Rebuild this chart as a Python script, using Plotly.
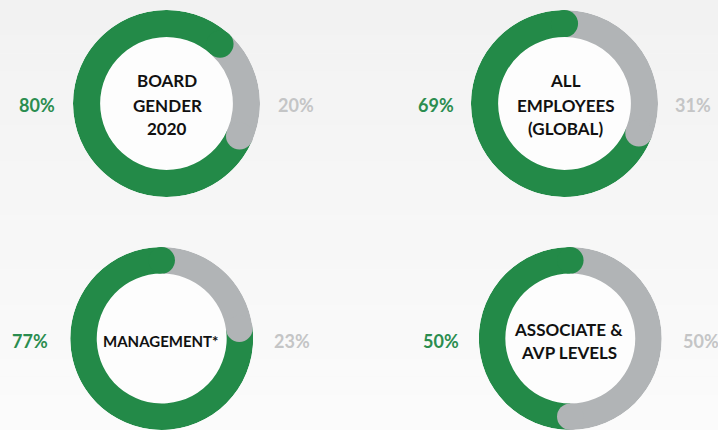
import plotly.graph_objects as go

# ---------------- data ----------------
chart_labels = [
    ["BOARD", "GENDER", "2020"],
    ["ALL", "EMPLOYEES", "(GLOBAL)"],
    ["MANAGEMENT*"],
    ["ASSOCIATE &", "AVP LEVELS"],
]
green_pct = [80, 69, 77, 50]
gray_pct = [20, 31, 23, 50]

# ---------------- style / layout ----------------
W, H = 718, 430
GREEN = "#238a48"
GRAY = "#b1b4b6"
GREEN_TXT = "#2b8d4f"
GRAY_TXT = "#c4c5c6"
INNER = 0.71  # inner radius as fraction of outer

# per chart: centre x (px), centre y (px), outer radius (px), gray start angle (deg, clockwise from 12)
geom = [
    (166.5, 103.5, 93.5, 42),
    (564.5, 103.5, 93.5, 0),
    (161.7, 338.5, 91.5, 0),
    (570.3, 338.5, 91.5, 0),
]
# text placement per chart: label centre x, label line y's, left pct x, right pct x, pct y, label font size
text_pos = [
    (167.0, [80.5, 105.0, 128.5], 36.7, 296.3, 105.0, 17),
    (565.5, [80.5, 105.0, 128.5], 435.7, 693.3, 105.0, 17),
    (160.5, [341.0], 30.0, 292.3, 341.0, 15),
    (568.8, [329.5, 352.7], 440.7, 700.5, 341.0, 17),
]

fig = go.Figure()
layout_polars = {}
annotations = []
shapes = []

# subtle vertical background gradient
n_bands = 24
for i in range(n_bands):
    t = i / (n_bands - 1)
    c = int(round(0xf2 + (0xfb - 0xf2) * t))
    shapes.append(dict(type="rect", xref="paper", yref="paper",
                       x0=0, x1=1, y0=1 - (i + 1) / n_bands, y1=1 - i / n_bands,
                       fillcolor=f"rgb({c},{c},{c})", line=dict(width=0), layer="below"))

for k in range(4):
    cx, cy, R, start = geom[k]
    pid = "polar" if k == 0 else f"polar{k+1}"
    sub = pid
    g = green_pct[k] / (green_pct[k] + gray_pct[k]) * 360
    s = gray_pct[k] / (green_pct[k] + gray_pct[k]) * 360

    # ring segments
    fig.add_trace(go.Barpolar(
        theta=[start + s / 2, start + s + g / 2], width=[s, g],
        r=[1 - INNER, 1 - INNER], base=[INNER, INNER],
        marker=dict(color=[GRAY, GREEN], line=dict(width=0)),
        subplot=sub, hoverinfo="skip", showlegend=False))
    # rounded caps
    cap = (1 - INNER) * R
    midr = (1 + INNER) / 2
    fig.add_trace(go.Scatterpolar(
        r=[midr], theta=[start + s], mode="markers",
        marker=dict(size=cap, color=GRAY, line=dict(width=0)),
        subplot=sub, hoverinfo="skip", showlegend=False))
    fig.add_trace(go.Scatterpolar(
        r=[midr], theta=[start], mode="markers",
        marker=dict(size=cap, color=GREEN, line=dict(width=0)),
        subplot=sub, hoverinfo="skip", showlegend=False))

    y0 = max(0.0, 1 - (cy + R) / H)
    y1 = min(1.0, 1 - (cy - R) / H)
    layout_polars[pid] = dict(
        domain=dict(x=[(cx - R) / W, (cx + R) / W], y=[y0, y1]),
        bgcolor="#fdfdfd",
        radialaxis=dict(visible=False, range=[0, 1]),
        angularaxis=dict(visible=False, rotation=90, direction="clockwise"),
    )

    lx, lys, plx, prx, py, fs = text_pos[k]
    for line, ly in zip(chart_labels[k], lys):
        annotations.append(dict(x=lx / W, y=1 - ly / H, xref="paper", yref="paper",
                                text=line, showarrow=False, xanchor="center", yanchor="middle",
                                font=dict(family="Lato", size=fs, color="#111111", weight="bold")))
    annotations.append(dict(x=plx / W, y=1 - py / H, xref="paper", yref="paper",
                            text=f"{green_pct[k]}%", showarrow=False, xanchor="center", yanchor="middle",
                            font=dict(family="Lato", size=18, color=GREEN_TXT, weight="bold")))
    annotations.append(dict(x=prx / W, y=1 - py / H, xref="paper", yref="paper",
                            text=f"{gray_pct[k]}%", showarrow=False, xanchor="center", yanchor="middle",
                            font=dict(family="Lato", size=18, color=GRAY_TXT, weight="bold")))

fig.update_layout(
    width=W, height=H,
    margin=dict(l=0, r=0, t=0, b=0),
    paper_bgcolor="#f6f6f6",
    plot_bgcolor="#f6f6f6",
    showlegend=False,
    hovermode=False,
    annotations=annotations,
    shapes=shapes,
    **layout_polars,
)

fig.write_html(
    "out.html",
    config={"displayModeBar": False},
    post_script="document.body.style.margin='0';document.body.style.padding='0';"
                "document.body.style.overflow='hidden';document.body.style.background='#f6f6f6';",
)
